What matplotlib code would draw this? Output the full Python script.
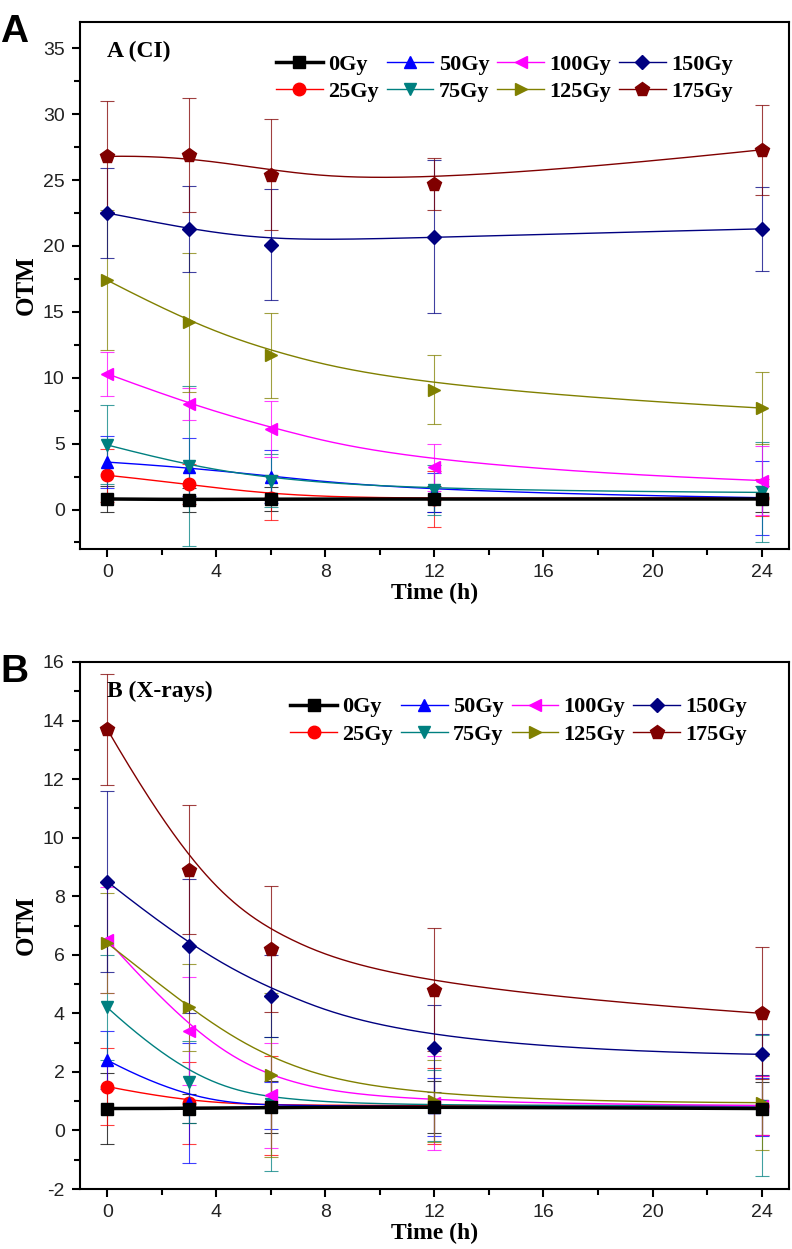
import numpy as np
import matplotlib
matplotlib.use("Agg")
import matplotlib.pyplot as plt
from matplotlib.ticker import MultipleLocator

plt.rcParams["axes.unicode_minus"] = False

# time points (h)
time = [0, 3, 6, 12, 24]
doses = ["0Gy", "25Gy", "50Gy", "75Gy", "100Gy", "125Gy", "150Gy", "175Gy"]
colors = ["#000000", "#ff0000", "#0000ff", "#008080", "#ff00ff", "#808000", "#000080", "#800000"]
markers = ["s", "o", "^", "v", "<", ">", "D", "p"]
msizes = [8.5, 9, 9, 9, 9, 9, 7.5, 10.5]

# panel A (CI) - mean OTM
ci_0 = [0.8, 0.75, 0.8, 0.8, 0.8]
ci_25 = [2.6, 1.95, 0.9, 0.8, 0.9]
ci_50 = [3.6, 3.2, 2.5, 1.3, 0.9]
ci_75 = [4.9, 3.3, 2.2, 1.45, 1.3]
ci_100 = [10.3, 8.0, 6.1, 3.2, 2.2]
ci_125 = [17.4, 14.2, 11.7, 9.1, 7.7]
ci_150 = [22.5, 21.3, 20.1, 20.7, 21.3]
ci_175 = [26.8, 26.9, 25.4, 24.7, 27.3]
# panel A - error bars
ci_0_err = [0.95, 0.9, 0.9, 1.0, 1.0]
ci_25_err = [2.0, 1.5, 1.7, 2.1, 1.4]
ci_50_err = [2.0, 2.2, 2.0, 1.5, 2.8]
ci_75_err = [3.0, 6.1, 2.0, 1.9, 3.8]
ci_100_err = [1.65, 1.2, 2.1, 1.8, 2.6]
ci_125_err = [5.3, 5.3, 3.2, 2.6, 2.75]
ci_150_err = [3.4, 3.25, 4.2, 5.8, 3.2]
ci_175_err = [4.2, 4.3, 4.2, 2.0, 3.4]

# panel B (X-rays) - mean OTM
xr_0 = [0.75, 0.75, 0.8, 0.8, 0.75]
xr_25 = [1.5, 0.95, 0.85, 0.85, 0.85]
xr_50 = [2.4, 0.95, 0.85, 0.8, 0.8]
xr_75 = [4.2, 1.67, 0.9, 0.85, 0.85]
xr_100 = [6.5, 3.4, 1.2, 0.95, 0.85]
xr_125 = [6.4, 4.2, 1.9, 1.0, 0.95]
xr_150 = [8.5, 6.3, 4.6, 2.8, 2.6]
xr_175 = [13.7, 8.9, 6.2, 4.8, 4.0]
# panel B - error bars
xr_0_err = [1.2, 0.5, 0.9, 0.9, 0.9]
xr_25_err = [1.3, 1.4, 1.7, 1.3, 1.0]
xr_50_err = [1.0, 2.05, 0.8, 1.0, 1.0]
xr_75_err = [1.8, 1.4, 2.3, 1.2, 2.4]
xr_100_err = [1.8, 1.85, 1.8, 1.6, 1.0]
xr_125_err = [1.7, 1.5, 2.8, 1.4, 1.6]
xr_150_err = [3.1, 2.3, 1.4, 1.5, 0.7]
xr_175_err = [1.9, 2.2, 2.15, 2.1, 2.25]

ci_means = [ci_0, ci_25, ci_50, ci_75, ci_100, ci_125, ci_150, ci_175]
ci_errs = [ci_0_err, ci_25_err, ci_50_err, ci_75_err, ci_100_err, ci_125_err, ci_150_err, ci_175_err]
xr_means = [xr_0, xr_25, xr_50, xr_75, xr_100, xr_125, xr_150, xr_175]
xr_errs = [xr_0_err, xr_25_err, xr_50_err, xr_75_err, xr_100_err, xr_125_err, xr_150_err, xr_175_err]

serif = "Liberation Serif"
sans = "Liberation Sans"


def bspline(px, py, n=300):
    # clamped cubic B-spline using the data points as control points
    px = np.asarray(px, float)
    py = np.asarray(py, float)
    k = 3
    m = len(px)
    inner = np.linspace(0, 1, m - k + 1)[1:-1]
    knots = np.concatenate([np.zeros(k + 1), inner, np.ones(k + 1)])
    u = np.linspace(0, 1, n)
    u[-1] = 1 - 1e-10
    N = np.zeros((n, len(knots) - 1))
    for i in range(len(knots) - 1):
        N[:, i] = (u >= knots[i]) & (u < knots[i + 1])
    for d in range(1, k + 1):
        Nn = np.zeros((n, len(knots) - 1 - d))
        for i in range(len(knots) - 1 - d):
            a = knots[i + d] - knots[i]
            b = knots[i + d + 1] - knots[i + 1]
            t1 = (u - knots[i]) / a * N[:, i] if a > 0 else 0
            t2 = (knots[i + d + 1] - u) / b * N[:, i + 1] if b > 0 else 0
            Nn[:, i] = t1 + t2
        N = Nn
    return N @ px, N @ py


def draw_panel(ax, means, errs, title, ylim, ymajor, letter, leg_anchor):
    for i in range(len(doses)):
        c = colors[i]
        lw = 2.5 if i == 0 else 1.0
        z = 5 if i == 0 else 3
        ax.errorbar(time, means[i], yerr=errs[i], fmt="none", ecolor=c,
                    elinewidth=0.8, capsize=5, capthick=0.8, alpha=0.75, zorder=2)
        cx, cy = bspline(time, means[i])
        ax.plot(cx, cy, color=c, lw=lw, zorder=z)
        ax.plot(time, means[i], linestyle="none", marker=markers[i], color=c,
                markersize=msizes[i], zorder=z + 1)
        ax.plot([], [], color=c, lw=lw, marker=markers[i], markersize=msizes[i], label=doses[i])

    ax.set_xlim(-1, 25)
    ax.set_ylim(*ylim)
    ax.xaxis.set_major_locator(MultipleLocator(4))
    ax.xaxis.set_minor_locator(MultipleLocator(2))
    ax.yaxis.set_major_locator(MultipleLocator(ymajor))
    ax.yaxis.set_minor_locator(MultipleLocator(ymajor / 2))
    ax.tick_params(which="both", direction="out", width=1.5, top=False, right=False)
    ax.tick_params(which="major", length=6, labelsize=14, pad=5)
    ax.tick_params(which="minor", length=4)
    for lab in ax.get_xticklabels() + ax.get_yticklabels():
        lab.set_fontfamily(sans)
        lab.set_color("#222222")
    for s in ax.spines.values():
        s.set_linewidth(1.5)

    ax.set_xlabel("Time (h)", fontfamily=serif, fontweight="bold", fontsize=17, labelpad=1)
    ax.set_ylabel("OTM", fontfamily=serif, fontweight="bold", fontsize=18, labelpad=4)
    ax.text(0.038, 0.965, title, transform=ax.transAxes, fontfamily=serif,
            fontweight="bold", fontsize=17, va="top", ha="left")
    ax.legend(loc="upper right", bbox_to_anchor=leg_anchor, ncol=4, frameon=False,
              prop={"family": serif, "weight": "bold", "size": 16},
              handlelength=2.1, handletextpad=0.25, columnspacing=0.35,
              labelspacing=0.3, numpoints=1, borderpad=0)
    fig.text(0.0, ax.get_position().y1 + 0.006, letter, fontfamily=sans,
             fontweight="bold", fontsize=28, va="top", ha="left")


fig = plt.figure(figsize=(7.92, 12.49), dpi=100)
axA = fig.add_axes([0.101, 0.5604, 0.895, 0.422])
axB = fig.add_axes([0.101, 0.048, 0.895, 0.422])

draw_panel(axA, ci_means, ci_errs, "A (CI)", (-3, 37), 5, "A", (0.937, 0.96))
draw_panel(axB, xr_means, xr_errs, "B (X-rays)", (-2, 16), 2, "B", (0.957, 0.955))

fig.savefig("out.png", dpi=100)
